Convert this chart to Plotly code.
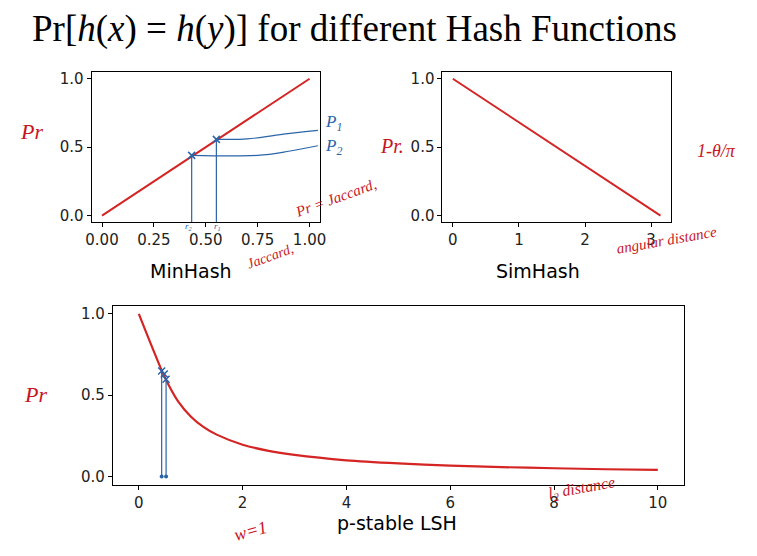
import plotly.graph_objects as go

# ---------------- data ----------------
minhash_x = [0.0, 1.0]
minhash_y = [0.0, 1.0]

simhash_x = [0.0, 3.14159]
simhash_y = [1.0, 0.0]

# p-stable LSH (w=1) collision probability
pstable_x = [0.0, 0.25, 0.5, 0.75, 1.0, 1.25, 1.5, 2.0, 2.5, 3.0, 4.0, 5.0, 6.0, 7.0, 8.0, 9.0, 10.0]
pstable_y = [1.0, 0.80, 0.61, 0.465, 0.369, 0.303, 0.257, 0.195, 0.157, 0.132, 0.099, 0.080, 0.066, 0.057, 0.050, 0.044, 0.040]

minhash_ticks = [0.0, 0.25, 0.5, 0.75, 1.0]
minhash_ticklabels = ["0.00", "0.25", "0.50", "0.75", "1.00"]
simhash_ticks = [0, 1, 2, 3]
pstable_ticks = [0, 2, 4, 6, 8, 10]
prob_ticks = [0.0, 0.5, 1.0]
prob_ticklabels = ["0.0", "0.5", "1.0"]

# hand-drawn blue annotation strokes (MinHash)
r_vals = [0.432, 0.551]
p_vals = [0.44, 0.557]
p1_line_x = [0.551, 0.70, 0.85, 1.04]
p1_line_y = [0.557, 0.56, 0.59, 0.622]
p2_line_x = [0.432, 0.75, 0.90, 1.04]
p2_line_y = [0.44, 0.44, 0.47, 0.51]
# hand-drawn blue strokes (p-stable)
ps_mark_x = [0.44, 0.49, 0.525]
ps_mark_y = [0.649, 0.63, 0.598]
ps_vline_x = [0.44, 0.525]

W, H = 757, 556
RED = "#d42424"
BLUE = "#2a64a8"
HAND_RED = "#c8141e"


def fx(px):
    return px / W


def fy(py):
    return 1 - py / H


fig = go.Figure()

# main curves
fig.add_trace(go.Scatter(x=minhash_x, y=minhash_y, mode="lines",
                         line=dict(color=RED, width=2), xaxis="x", yaxis="y"))
fig.add_trace(go.Scatter(x=simhash_x, y=simhash_y, mode="lines",
                         line=dict(color=RED, width=2), xaxis="x2", yaxis="y2"))
fig.add_trace(go.Scatter(x=pstable_x, y=pstable_y, mode="lines",
                         line=dict(color=RED, width=2.2, shape="spline", smoothing=0.8),
                         xaxis="x3", yaxis="y3"))

# blue hand strokes on MinHash
for rx, py in zip(r_vals, p_vals):
    fig.add_trace(go.Scatter(x=[rx, rx], y=[-0.05, py], mode="lines",
                             line=dict(color=BLUE, width=1.2), xaxis="x", yaxis="y"))
fig.add_trace(go.Scatter(x=p1_line_x, y=p1_line_y, mode="lines",
                         line=dict(color=BLUE, width=1.2, shape="spline"), xaxis="x", yaxis="y"))
fig.add_trace(go.Scatter(x=p2_line_x, y=p2_line_y, mode="lines",
                         line=dict(color=BLUE, width=1.2, shape="spline"), xaxis="x", yaxis="y"))
fig.add_trace(go.Scatter(x=r_vals, y=p_vals, mode="markers",
                         marker=dict(symbol="x-thin", size=7, line=dict(color=BLUE, width=1.5)),
                         xaxis="x", yaxis="y"))

# blue hand strokes on p-stable
for vx, vy in zip(ps_vline_x, [ps_mark_y[0], ps_mark_y[2]]):
    fig.add_trace(go.Scatter(x=[vx, vx], y=[0.0, vy], mode="lines",
                             line=dict(color=BLUE, width=1.2), xaxis="x3", yaxis="y3"))
fig.add_trace(go.Scatter(x=ps_mark_x, y=ps_mark_y, mode="markers",
                         marker=dict(symbol="x-thin", size=7, line=dict(color=BLUE, width=1.5)),
                         xaxis="x3", yaxis="y3"))
fig.add_trace(go.Scatter(x=ps_vline_x, y=[0.0, 0.0], mode="markers",
                         marker=dict(symbol="circle", size=4, color=BLUE),
                         xaxis="x3", yaxis="y3", cliponaxis=False))

axis_common = dict(showline=True, linecolor="black", linewidth=1, mirror=True,
                   ticks="outside", ticklen=4, tickwidth=1, tickcolor="black",
                   showgrid=False, zeroline=False,
                   tickfont=dict(family="DejaVu Sans", size=15, color="#222222"),
                   fixedrange=True)

fig.update_layout(
    width=W, height=H,
    margin=dict(l=0, r=0, t=0, b=0),
    paper_bgcolor="white", plot_bgcolor="white",
    showlegend=False,
    xaxis=dict(axis_common, domain=[fx(87), fx(319)], range=[-0.05, 1.05],
               tickvals=minhash_ticks, ticktext=minhash_ticklabels, anchor="y"),
    yaxis=dict(axis_common, domain=[fy(222), fy(70.4)], range=[-0.05, 1.05],
               tickvals=prob_ticks, ticktext=prob_ticklabels, anchor="x"),
    xaxis2=dict(axis_common, domain=[fx(443.5), fx(675.6)], range=[-0.157, 3.299],
                tickvals=simhash_ticks, anchor="y2"),
    yaxis2=dict(axis_common, domain=[fy(222), fy(70.4)], range=[-0.05, 1.05],
                tickvals=prob_ticks, ticktext=prob_ticklabels, anchor="x2"),
    xaxis3=dict(axis_common, domain=[fx(108.6), fx(688.7)], range=[-0.5, 10.5],
                tickvals=pstable_ticks, anchor="y3"),
    yaxis3=dict(axis_common, domain=[fy(486), fy(306)], range=[-0.05, 1.05],
                tickvals=prob_ticks, ticktext=prob_ticklabels, anchor="x3"),
)

annotations = []
# title
annotations.append(dict(
    text="Pr[<i>h</i>(<i>x</i>) = <i>h</i>(<i>y</i>)] for different Hash Functions",
    x=fx(24), y=fy(27), xanchor="left", yanchor="middle", xref="paper", yref="paper",
    showarrow=False, font=dict(family="Liberation Serif", size=37, color="black")))

# axis captions
for txt, px, py in [("MinHash", 188, 271), ("SimHash", 541, 271), ("p-stable LSH", 397, 525)]:
    annotations.append(dict(text=txt, x=fx(px), y=fy(py), xref="paper", yref="paper",
                            xanchor="center", yanchor="middle", showarrow=False,
                            font=dict(family="DejaVu Sans", size=19, color="black")))

# handwritten notes
hand = [
    ("<i>Pr</i>", 26, 130, HAND_RED, 22, 0),
    ("<i>Pr.</i>", 392, 145, HAND_RED, 20, 0),
    ("<i>1-θ/π</i>", 722, 150, HAND_RED, 18, 0),
    ("<i>P<sub>1</sub></i>", 333, 122, BLUE, 17, 0),
    ("<i>P<sub>2</sub></i>", 333, 146, BLUE, 17, 0),
    ("<i>Pr = Jaccard,</i>", 335, 197, HAND_RED, 15, -20),
    ("<i>Jaccard,</i>", 268, 256, HAND_RED, 14, -20),
    ("<i>r<sub>2</sub></i>", 186, 226, BLUE, 9, 0),
    ("<i>r<sub>1</sub></i>", 215, 226, BLUE, 9, 0),
    ("<i>angular distance</i>", 672, 240, HAND_RED, 15, -10),
    ("<i>Pr</i>", 30, 395, HAND_RED, 22, 0),
    ("<i>w=1</i>", 248, 533, HAND_RED, 18, -15),
    ("<i>l<sub>2</sub> distance</i>", 585, 490, HAND_RED, 16, -10),
]
for txt, px, py, col, sz, ang in hand:
    annotations.append(dict(text=txt, x=fx(px), y=fy(py), xref="paper", yref="paper",
                            xanchor="center", yanchor="middle", showarrow=False,
                            textangle=ang,
                            font=dict(family="Liberation Serif", size=sz, color=col)))

fig.update_layout(annotations=annotations)

fig.write_html("out.html")
